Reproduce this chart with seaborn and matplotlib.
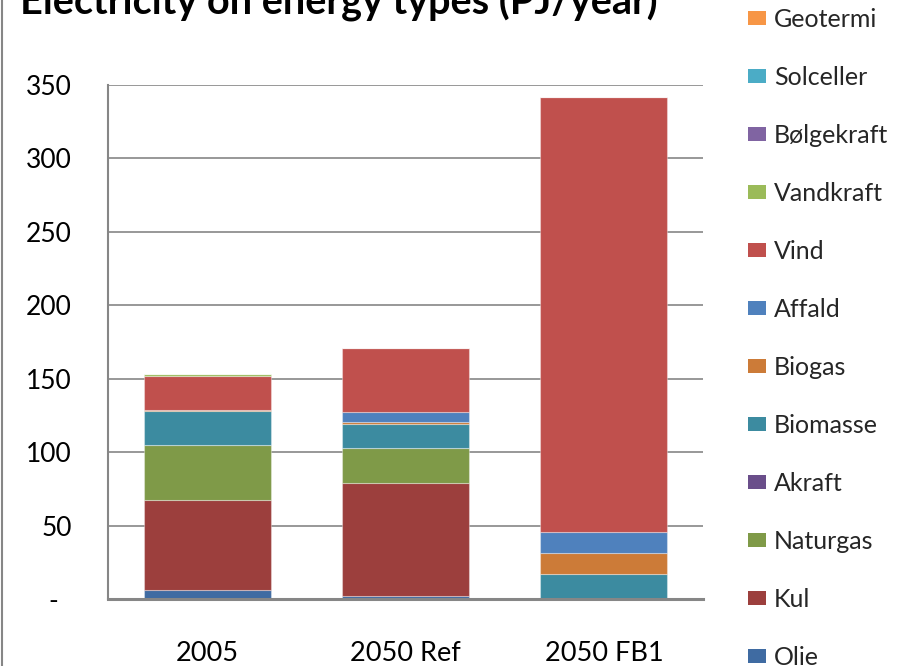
import matplotlib
matplotlib.use("Agg")
import matplotlib.pyplot as plt
from matplotlib.lines import Line2D
import seaborn as sns
import numpy as np
import pandas as pd

# ---- data ----
categories = ["2005", "2050 Ref", "2050 FB1"]
series_names = ["Olie", "Kul", "Naturgas", "Akraft", "Biomasse", "Biogas",
                "Affald", "Vind", "Vandkraft", "Bølgekraft", "Solceller", "Geotermi"]
olie       = [6.0, 2.0, 0.0]
kul        = [61.5, 77.0, 0.0]
naturgas   = [37.3, 24.0, 0.0]
akraft     = [0.0, 0.0, 0.0]
biomasse   = [23.2, 16.2, 16.8]
biogas     = [1.0, 1.3, 14.5]
affald     = [0.0, 6.8, 14.3]
vind       = [22.7, 43.6, 295.9]
vandkraft  = [1.6, 0.0, 0.0]
boelgekraft = [0.0, 0.0, 0.0]
solceller  = [0.0, 0.0, 0.0]
geotermi   = [0.0, 0.0, 0.0]
values = [olie, kul, naturgas, akraft, biomasse, biogas, affald, vind,
          vandkraft, boelgekraft, solceller, geotermi]
colors = ["#3F6BA2", "#9C3F3D", "#7F9A48", "#6A4E8A", "#3C8BA0", "#CC7B38",
          "#4F81BD", "#C0504D", "#9BBB59", "#8064A2", "#4BACC6", "#F79646"]
yticks = [0, 50, 100, 150, 200, 250, 300, 350]
ytick_labels = ["-  ", "50", "100", "150", "200", "250", "300", "350"]
title = "Electricity on energy types (PJ/year)"

sns.set_theme(style="white")
plt.rcParams["font.family"] = ["Lato", "DejaVu Sans"]

W, H = 914, 666
fig = plt.figure(figsize=(W / 100, H / 100), dpi=100)
ax = fig.add_axes([108 / W, (H - 599) / H, (703 - 108) / W, (599 - 85) / H])

bottom = np.zeros(len(categories))
handles = []
for name, vals, col in zip(series_names, values, colors):
    df = pd.DataFrame({"cat": categories, "val": vals})
    sns.barplot(data=df, x="cat", y="val", order=categories, color=col,
                width=0.64, bottom=bottom.copy(), errorbar=None, ax=ax,
                edgecolor=(1, 1, 1, 0.35), linewidth=0.8, saturation=1, zorder=3)
    bottom = bottom + np.array(vals)
    handles.append(plt.Rectangle((0, 0), 1, 1, facecolor=col, edgecolor="none"))

ax.set_xlim(-0.5, 2.5)
ax.set_ylim(0, 350)
ax.set_yticks(yticks)
ax.set_yticklabels(ytick_labels)
ax.set_xlabel("")
ax.set_ylabel("")
ax.yaxis.grid(True, color="#868686", linewidth=1.2, zorder=0)
ax.set_axisbelow(True)
for s in ["top", "right"]:
    ax.spines[s].set_visible(False)
ax.spines["left"].set_color("#868686")
ax.spines["left"].set_linewidth(1.5)
ax.spines["bottom"].set_color("#868686")
ax.spines["bottom"].set_linewidth(2.2)
ax.spines["bottom"].set_zorder(5)
ax.tick_params(axis="y", length=0, pad=26, labelsize=19, labelcolor="black")
ax.tick_params(axis="x", length=0, pad=30, labelsize=19.5, labelcolor="black")

leg = fig.legend(handles[::-1], series_names[::-1], loc="upper left",
                 bbox_to_anchor=(748 / W, 1 - 8 / H), frameon=False,
                 fontsize=18, handlelength=0.72, handleheight=0.5,
                 handletextpad=0.32, labelspacing=1.40, borderaxespad=0,
                 borderpad=0)

fig.text(20 / W, 1 - 14 / H, title, fontsize=28.5, fontweight="bold",
         va="baseline", ha="left", color="black")

fig.add_artist(Line2D([1.5 / W, 1.5 / W], [0, 1], transform=fig.transFigure,
                      color="#868686", linewidth=1.5))

fig.savefig("out.png", dpi=100)
